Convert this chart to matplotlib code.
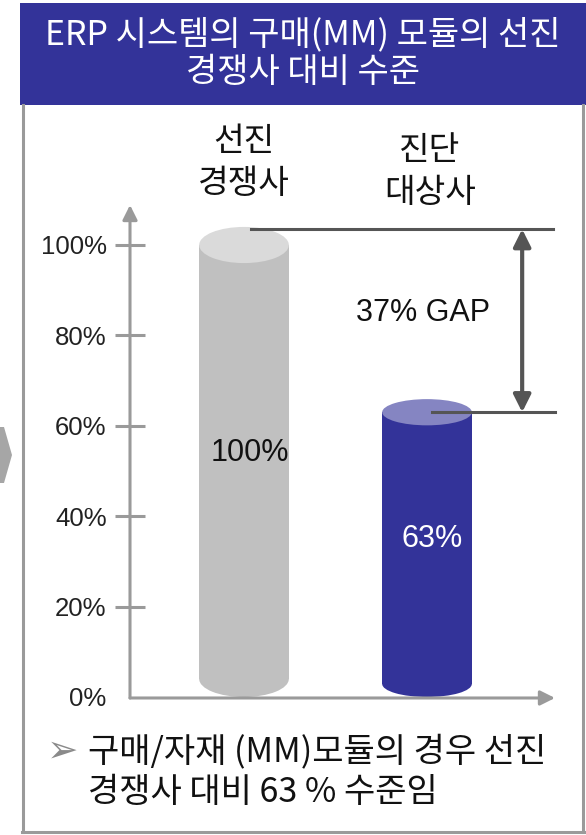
import matplotlib
matplotlib.use("Agg")
import matplotlib.pyplot as plt
from matplotlib.patches import Rectangle, Ellipse, Polygon
from matplotlib.lines import Line2D

plt.rcParams['font.family'] = ['Noto Sans CJK KR', 'DejaVu Sans']

# ---- data ----
categories = ["선진\n경쟁사", "진단\n대상사"]
values = [100, 63]
value_labels = ["100%", "63%"]
yticks = [0, 20, 40, 60, 80, 100]
ytick_labels = ["0%", "20%", "40%", "60%", "80%", "100%"]
gap_label = "37% GAP"
title = "ERP 시스템의 구매(MM) 모듈의 선진\n경쟁사 대비 수준"
note = "구매/자재 (MM)모듈의 경우 선진\n경쟁사 대비 63 % 수준임"

W, H = 586, 835
fig = plt.figure(figsize=(W / 100, H / 100), dpi=100)


def fx(px):
    return px / W


def fy(py):
    return 1 - py / H


# header band
fig.add_artist(Rectangle((fx(20), fy(105)), fx(566), 102 / H, transform=fig.transFigure,
                         facecolor='#333399', edgecolor='none'))
fig.text(fx(303), fy(54), title, ha='center', va='center', color='white', fontsize=24.5,
         linespacing=1.1)

# frame
fc = '#9a9a9a'
for xs, ys in [((23, 23), (105, 832)), ((583, 583), (105, 832)), ((22, 584), (832, 832))]:
    fig.add_artist(Line2D([fx(xs[0]), fx(xs[1])], [fy(ys[0]), fy(ys[1])],
                          transform=fig.transFigure, color=fc, lw=2.2))

# left chevron
fig.add_artist(Polygon([(fx(0), fy(427)), (fx(4), fy(427)), (fx(12), fy(455)),
                        (fx(4), fy(483)), (fx(0), fy(483))], closed=True,
                       transform=fig.transFigure, facecolor='#a6a6a6', edgecolor='none'))

# chart axes
ax_left, ax_right, ax_bottom, ax_top = 130, 555, 697, 205
ax = fig.add_axes([fx(ax_left), fy(ax_bottom), (ax_right - ax_left) / W, (ax_bottom - ax_top) / H])
ppu = 4.52  # px per percent
ax.set_ylim(0, (ax_bottom - ax_top) / ppu)
xs_px = 183.0
ax.set_xlim(-(244 - ax_left) / xs_px, (ax_right - 244) / xs_px)
for s in ax.spines.values():
    s.set_visible(False)
ax.set_xticks([])
ax.set_yticks(yticks)
ax.set_yticklabels(ytick_labels, fontsize=18.5, color='#222222', family=['Liberation Sans'])
ax.tick_params(axis='y', direction='inout', length=21.6, width=2.2, color=fc, pad=6)
ax.yaxis.get_major_ticks()[0].tick1line.set_visible(False)
ax.patch.set_alpha(0)

axis_col = '#9a9a9a'
ax.annotate('', xy=(0, 1), xytext=(0, -0.002), xycoords='axes fraction',
            arrowprops=dict(arrowstyle='-|>', color=axis_col, lw=2.2, mutation_scale=22,
                            shrinkA=0, shrinkB=0), annotation_clip=False)
ax.annotate('', xy=(1, -0.002), xytext=(0, -0.002), xycoords='axes fraction',
            arrowprops=dict(arrowstyle='-|>', color=axis_col, lw=2.2, mutation_scale=22,
                            shrinkA=0, shrinkB=0), annotation_clip=False)

# cylinders
body_cols = ['#c0c0c0', '#333399']
top_cols = ['#dadada', '#8585c2']
half_h = [4.0, 2.9]  # ellipse half height in %
width = 0.49
for i, (v, bc, tc, hh) in enumerate(zip(values, body_cols, top_cols, half_h)):
    base = hh
    ax.add_patch(Ellipse((i, base), width, 2 * hh, facecolor=bc, edgecolor='none', zorder=2))
    ax.add_patch(Rectangle((i - width / 2, base), width, v - base, facecolor=bc,
                           edgecolor='none', zorder=2))
    ax.add_patch(Ellipse((i, v), width, 2 * hh, facecolor=tc, edgecolor='none', zorder=3))

# value labels
ax.text(0.03, 54, value_labels[0], ha='center', va='center', fontsize=22, color='#111111',
        family=['Liberation Sans'], zorder=4)
ax.text(1.03, 35, value_labels[1], ha='center', va='center', fontsize=22, color='white',
        family=['Liberation Sans'], zorder=4)

# category labels
ax.text(0.0, 118.3, categories[0], ha='center', va='center', fontsize=24, color='#111111',
        linespacing=1.25, clip_on=False)
ax.text(1.016, 116.3, categories[1], ha='center', va='center', fontsize=24, color='#111111',
        linespacing=1.25, clip_on=False)

# gap lines and arrow
gap_col = '#555555'
ax.plot([0.04, 1.69], [values[0] + 3.5, values[0] + 3.5], color=gap_col, lw=2.2, zorder=5,
        clip_on=False)
ax.plot([1.03, 1.70], [values[1], values[1]], color=gap_col, lw=2.2, zorder=5, clip_on=False)
ax.annotate('', xy=(1.52, values[1]), xytext=(1.52, values[0] + 3.5),
            arrowprops=dict(arrowstyle='<|-|>', color=gap_col, lw=3, mutation_scale=26,
                            shrinkA=0, shrinkB=0), annotation_clip=False)
ax.text(0.98, 85, gap_label, ha='center', va='center', fontsize=22, color='#111111',
        family=['Liberation Sans'])

# bottom note
fig.text(fx(63), fy(752), "➢", ha='center', va='center', fontsize=27, color='#8a8a8a',
         family=['DejaVu Sans'])
fig.text(fx(88), fy(772), note, ha='left', va='center', fontsize=24.5, color='#111111',
         linespacing=1.2)

fig.savefig('out.png', dpi=100)
